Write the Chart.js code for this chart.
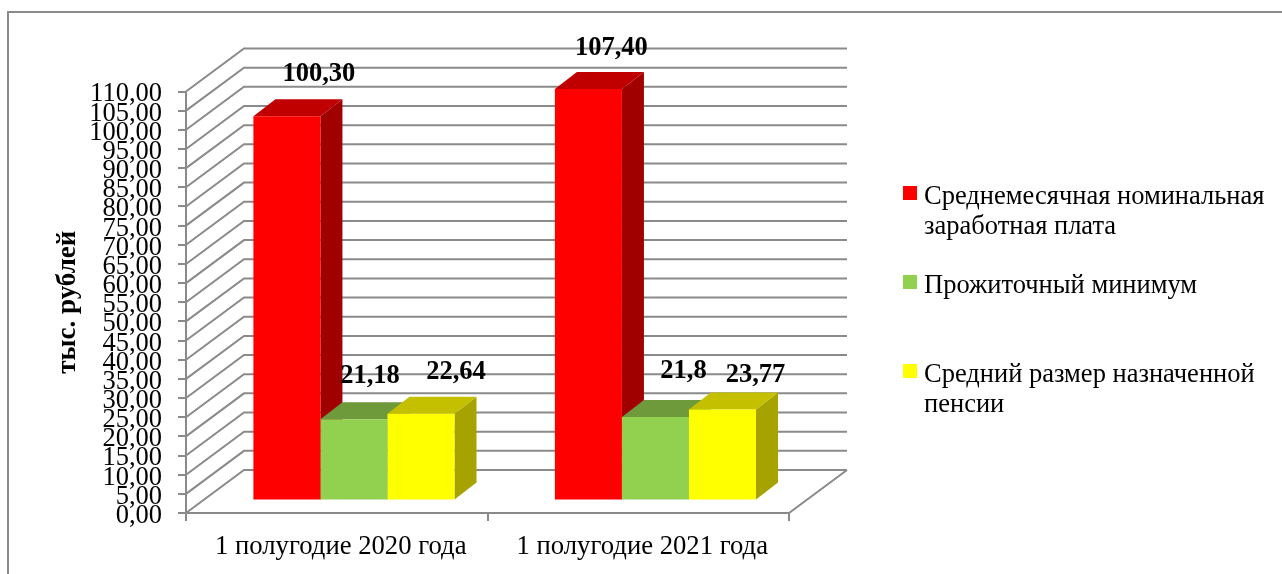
<!DOCTYPE html>
<html>
<head>
<meta charset="utf-8">
<style>
html, body { margin: 0; padding: 0; background: #fff; overflow: hidden; }
#wrap { position: relative; width: 1282px; height: 574px; }
</style>
<script src="https://cdn.jsdelivr.net/npm/chart.js@4/dist/chart.umd.min.js"></script>
</head>
<body>
<div id="wrap"><canvas id="c" width="1282" height="574"></canvas></div>
<script>
var categories = [ '1 полугодие 2020 года', '1 полугодие 2021 года' ];
var wages = [ 100.30, 107.40 ];
var minimum = [ 21.18, 21.8 ];
var pension = [ 22.64, 23.77 ];
var wagesLabels = [ '100,30', '107,40' ];
var minimumLabels = [ '21,18', '21,8' ];
var pensionLabels = [ '22,64', '23,77' ];
var wagesName = [ 'Среднемесячная номинальная', 'заработная плата' ];
var minimumName = [ 'Прожиточный минимум' ];
var pensionName = [ 'Средний размер назначенной', 'пенсии' ];
var axisTitle = 'тыс. рублей';

var serif = '"Liberation Serif", "Times New Roman", serif';
var gridColor = '#8a8a8a';

// depth of the fake 3d box and of the bars standing in it
var wallDx = 58, wallDy = -43;
var barShiftX = 17.2, barShiftY = -12.5;
var barDx = 22, barDy = -17;

var sideColors = [ '#a00000', '#6f9a3b', '#a6a300' ];
var topColors = [ '#c00000', '#6f9a3b', '#c4c000' ];

// hand moved labels in the original, offsets from the top middle of the bar
var labelNudge = [
    [ [ 32, -42 ], [ 23, -41 ] ],
    [ [ 16, -43 ], [ 28, -46 ] ],
    [ [ 35, -42 ], [ 33, -34 ] ]
];

var legendRows = [ 193, 282, 371 ];

var poly = function ( ctx, pts, color ) {
    ctx.fillStyle = color;
    ctx.beginPath();
    ctx.moveTo( pts[ 0 ][ 0 ], pts[ 0 ][ 1 ] );
    for ( var i = 1; i < pts.length; i++ ) {
        ctx.lineTo( pts[ i ][ 0 ], pts[ i ][ 1 ] );
    }
    ctx.closePath();
    ctx.fill();
};

var box3d = {
    id: 'box3d',
    beforeDatasetsDraw: function ( chart ) {
        var ctx = chart.ctx;
        var yScale = chart.scales.y;
        var area = chart.chartArea;

        ctx.save();
        ctx.strokeStyle = gridColor;
        ctx.lineWidth = 2;

        // frame
        ctx.beginPath();
        ctx.moveTo( 8, 574 );
        ctx.lineTo( 8, 12 );
        ctx.lineTo( 1282, 12 );
        ctx.stroke();

        // walls
        yScale.ticks.forEach( function ( tick ) {
            var y = yScale.getPixelForValue( tick.value );
            ctx.beginPath();
            ctx.moveTo( area.left, y );
            ctx.lineTo( area.left + wallDx, y + wallDy );
            ctx.lineTo( area.right + wallDx, y + wallDy );
            ctx.stroke();
        } );

        // floor edges and the front axes
        ctx.beginPath();
        ctx.moveTo( area.left, area.top );
        ctx.lineTo( area.left, area.bottom );
        ctx.lineTo( area.right, area.bottom );
        ctx.lineTo( area.right + wallDx, area.bottom + wallDy );
        ctx.stroke();
        ctx.restore();

        // sides and tops, left to right so the nearer ones cover the others
        ctx.save();
        ctx.translate( barShiftX, barShiftY );
        chart.data.labels.forEach( function ( label, index ) {
            chart.data.datasets.forEach( function ( ds, dsIndex ) {
                var bar = chart.getDatasetMeta( dsIndex ).data[ index ];
                var l = bar.x - bar.width / 2;
                var r = bar.x + bar.width / 2;
                poly( ctx, [ [ r, bar.y ], [ r + barDx, bar.y + barDy ], [ r + barDx, bar.base + barDy ], [ r, bar.base ] ], sideColors[ dsIndex ] );
                poly( ctx, [ [ l, bar.y ], [ l + barDx, bar.y + barDy ], [ r + barDx, bar.y + barDy ], [ r, bar.y ] ], topColors[ dsIndex ] );
            } );
        } );
        ctx.restore();
        // the front faces are drawn by the library right after this, restored in afterDatasetsDraw
        ctx.save();
        ctx.translate( barShiftX, barShiftY );
    },
    afterDatasetsDraw: function ( chart ) {
        var ctx = chart.ctx;
        ctx.restore();

        // value labels
        ctx.save();
        ctx.fillStyle = '#000';
        ctx.font = 'bold 26.5px ' + serif;
        ctx.textAlign = 'center';
        ctx.textBaseline = 'middle';
        chart.data.datasets.forEach( function ( ds, dsIndex ) {
            chart.getDatasetMeta( dsIndex ).data.forEach( function ( bar, index ) {
                var nudge = labelNudge[ dsIndex ][ index ];
                ctx.fillText( ds.valueLabels[ index ], bar.x + barShiftX + nudge[ 0 ], bar.y + barShiftY + nudge[ 1 ] );
            } );
        } );

        // legend, wrapped by hand like in the original
        ctx.font = '26.5px ' + serif;
        ctx.textAlign = 'left';
        chart.data.datasets.forEach( function ( ds, dsIndex ) {
            var y = legendRows[ dsIndex ];
            ctx.fillStyle = ds.backgroundColor;
            ctx.fillRect( 903, y - 7, 14, 14 );
            ctx.fillStyle = '#000';
            ds.legendLines.forEach( function ( line, n ) {
                ctx.fillText( line, 924, y + 4 + n * 30 );
            } );
        } );
        ctx.restore();
    }
};

new Chart( document.getElementById( 'c' ), {
    type: 'bar',
    plugins: [ box3d ],
    data: {
        labels: categories,
        datasets: [
            { label: wagesName.join( ' ' ), data: wages, backgroundColor: '#ff0000', valueLabels: wagesLabels, legendLines: wagesName },
            { label: minimumName.join( ' ' ), data: minimum, backgroundColor: '#92d050', valueLabels: minimumLabels, legendLines: minimumName },
            { label: pensionName.join( ' ' ), data: pension, backgroundColor: '#ffff00', valueLabels: pensionLabels, legendLines: pensionName }
        ]
    },
    options: {
        responsive: false,
        animation: false,
        devicePixelRatio: 1,
        layout: { padding: { left: 52, top: 91.5, right: 493, bottom: 0 } },
        plugins: { legend: { display: false }, tooltip: { enabled: false } },
        datasets: { bar: { barPercentage: 1, categoryPercentage: 0.667 } },
        scales: {
            x: {
                grid: { drawOnChartArea: false, color: gridColor, lineWidth: 2, tickLength: 8, drawTicks: true },
                border: { display: false },
                ticks: { color: '#000', font: { family: serif, size: 26.7 }, padding: 10, maxRotation: 0, labelOffset: 4 },
                afterFit: function ( scale ) { scale.height = 61; }
            },
            y: {
                min: 0,
                max: 110,
                title: { display: true, text: axisTitle, color: '#000', font: { family: serif, size: 27, weight: 'bold' }, padding: 0 },
                grid: { drawOnChartArea: false, color: gridColor, lineWidth: 2, tickLength: 8 },
                border: { display: false },
                ticks: {
                    stepSize: 5,
                    autoSkip: false,
                    color: '#000',
                    padding: 16,
                    labelOffset: 3,
                    font: { family: serif, size: 26.5 },
                    callback: function ( value ) { return value.toFixed( 2 ).replace( '.', ',' ); }
                },
                afterFit: function ( scale ) { scale.width = 134; }
            }
        }
    }
} );
</script>
</body>
</html>
